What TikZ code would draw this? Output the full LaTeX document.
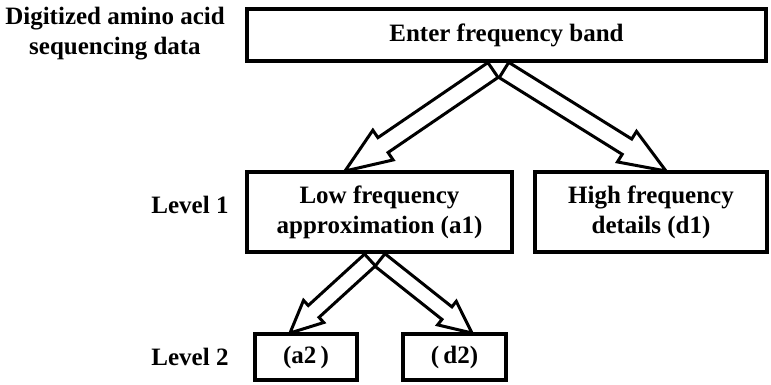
\documentclass[tikz,border=0pt]{standalone}
\usepackage{fontspec}
\setmainfont{Liberation Serif}
\usepackage{tikz}
\usetikzlibrary{calc,backgrounds}

\tikzset{
  box/.style={draw, line width=4pt, align=center, inner sep=0pt},
  lbl/.style={align=center, inner sep=0pt},
  hollow/.style n args={3}{line width=3pt, fill=white, line join=miter,
    to path={
      ($(\tikztostart)!#1!-90:(\tikztotarget)$)
      -- ($(\tikztotarget)!#2!(\tikztostart)!#1!90:(\tikztostart)$)
      -- ($(\tikztotarget)!#2!(\tikztostart)!#3!90:(\tikztostart)$)
      -- (\tikztotarget)
      -- ($(\tikztotarget)!#2!(\tikztostart)!#3!-90:(\tikztostart)$)
      -- ($(\tikztotarget)!#2!(\tikztostart)!#1!-90:(\tikztostart)$)
      -- ($(\tikztostart)!#1!90:(\tikztotarget)$)
      -- cycle}}
}

\begin{document}
\begin{tikzpicture}[x=1pt, y=-1pt, font=\fontsize{25}{30}\selectfont\bfseries]
  \useasboundingbox (0,0) rectangle (771,384);

  % LABELS
  \node[lbl] (data) at (115,34) {Digitized amino acid\\sequencing data};
  \node[lbl] (lev1) at (190,205) {Level 1};
  \node[lbl] (lev2) at (190,357) {Level 2};

  % BOXES
  \node[box, minimum width=519pt, minimum height=51.5pt] (enter) at (506.5,35) {Enter frequency band};
  \node[box, minimum width=265pt, minimum height=80pt] (low) at (379.5,212) {Low frequency\\approximation (a1)};
  \node[box, minimum width=232pt, minimum height=80pt] (high) at (651,212) {High frequency\\details (d1)};
  \node[box, minimum width=102pt, minimum height=46pt] (a2) at (306,357) {(a2\,)};
  \node[box, minimum width=103pt, minimum height=46pt] (d2) at (454.5,357) {(\,d2)};

  % ARROW ENDS
  \coordinate (s1) at (493,70);
  \coordinate (s2) at (504,70);
  \coordinate (t1) at (345,171);
  \coordinate (t2) at (666,171);
  \coordinate (s3) at (370,260);
  \coordinate (s4) at (380,260);
  \coordinate (t3) at (290,333);
  \coordinate (t4) at (472,333);

  % ARROWS
  \begin{pgfonlayer}{background}
    \draw[hollow={9pt}{46pt}{18pt}] (s1) to (t1);
    \draw[hollow={9pt}{46pt}{18pt}] (s2) to (t2);
    \draw[hollow={8pt}{32pt}{15pt}] (s3) to (t3);
    \draw[hollow={8pt}{32pt}{15pt}] (s4) to (t4);
  \end{pgfonlayer}
\end{tikzpicture}
\end{document}
